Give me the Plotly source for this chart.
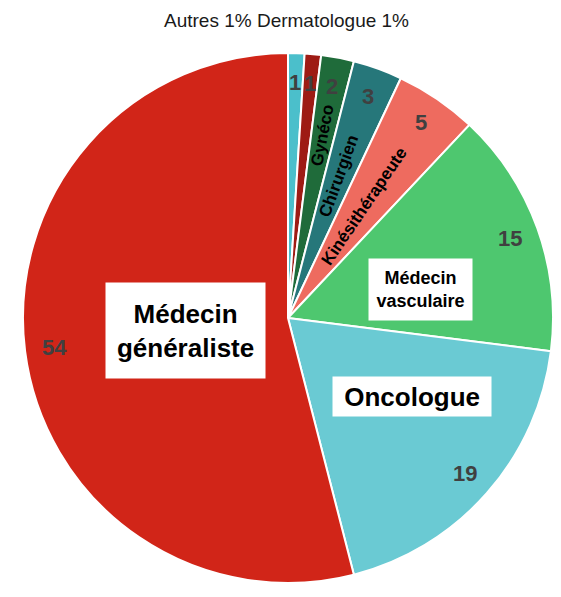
import numpy as np
import plotly.graph_objects as go

# data, clockwise from 12 o'clock
labels = ["Autres", "Dermatologue", "Gynéco", "Chirurgien", "Kinésithérapeute",
          "Médecin vasculaire", "Oncologue", "Médecin généraliste"]
values = [1, 1, 2, 3, 5, 15, 19, 54]
colors = ["#4BBFCB", "#9E1B14", "#1F6B3A", "#26777A", "#EE6B5F",
          "#4EC76F", "#6ACAD3", "#D12518"]

# page has an 8px body margin, so the figure is sized to fit the window
OFF = 8
FW, FH = 561 - 2 * OFF, 597 - 2 * OFF

# reference pie geometry (page px) and the one we can fit
RCX, RCY, RR = 292, 320, 278
cx, cy, R = 288, 318, 265
s = R / RR


def paper(X, Y):
    return (X - OFF) / FW, 1 - (Y - OFF) / FH


def ref_to_page(X, Y):
    return cx + s * (X - RCX), cy + s * (Y - RCY)


fig = go.Figure()
fig.add_trace(go.Pie(
    labels=labels, values=values, sort=False, direction="clockwise", rotation=0,
    marker=dict(colors=colors, line=dict(color="white", width=2)),
    textinfo="none", hoverinfo="label+value", showlegend=False,
    domain=dict(x=[(cx - OFF - R) / FW, min(1, (cx - OFF + R) / FW)],
                y=[max(0, 1 - (cy - OFF + R) / FH), 1 - (cy - OFF - R) / FH]),
))

FONT = "Liberation Sans, Arial, sans-serif"

# mid angle of each slice (degrees clockwise from top)
vals = np.array(values, dtype=float)
mid = (np.cumsum(vals) - vals / 2) / vals.sum() * 360.0


def polar(theta, frac):
    t = np.radians(theta)
    return paper(cx + frac * R * np.sin(t), cy - frac * R * np.cos(t))


annotations = []
# value labels near the rim
for v, th in zip(values, mid):
    x, y = polar(th, 0.89)
    annotations.append(dict(x=x, y=y, text=f"<b>{v}</b>",
                            font=dict(family=FONT, size=round(23 * s), color="#404040")))

# rotated radial labels in the thin slices
for i, frac in [(2, 0.70), (3, 0.57), (4, 0.51)]:
    x, y = polar(mid[i], frac)
    annotations.append(dict(x=x, y=y, text=f"<b>{labels[i]}</b>",
                            textangle=-(90 - mid[i]),
                            font=dict(family=FONT, size=round(18 * s), color="black")))

# boxed labels (reference centre, size, font)
boxes = [
    ("<b>Médecin<br>vasculaire</b>", 431, 290, 108, 64, 19),
    ("<b>Oncologue</b>", 422, 402, 166, 41, 27),
    ("<b>Médecin<br>généraliste</b>", 184, 333, 167, 100, 27),
]
for txt, bx, by, bw, bh, fs in boxes:
    x, y = paper(*ref_to_page(bx, by))
    annotations.append(dict(x=x, y=y, text=txt, bgcolor="white", borderpad=0,
                            width=bw * s, height=bh * s, align="center",
                            font=dict(family=FONT, size=round(fs * s), color="black")))

# small slices named at the top
x, y = paper(286, 21)
annotations.append(dict(x=x, y=y, text=f"{labels[0]} {values[0]}% {labels[1]} {values[1]}%",
                        font=dict(family=FONT, size=19, color="#1a1a1a")))

for a in annotations:
    a.update(xref="paper", yref="paper", showarrow=False, xanchor="center", yanchor="middle")

fig.update_layout(
    width=FW, height=FH,
    margin=dict(l=0, r=0, t=0, b=0),
    paper_bgcolor="white", plot_bgcolor="white",
    annotations=annotations,
)

fig.write_html("out.html")
